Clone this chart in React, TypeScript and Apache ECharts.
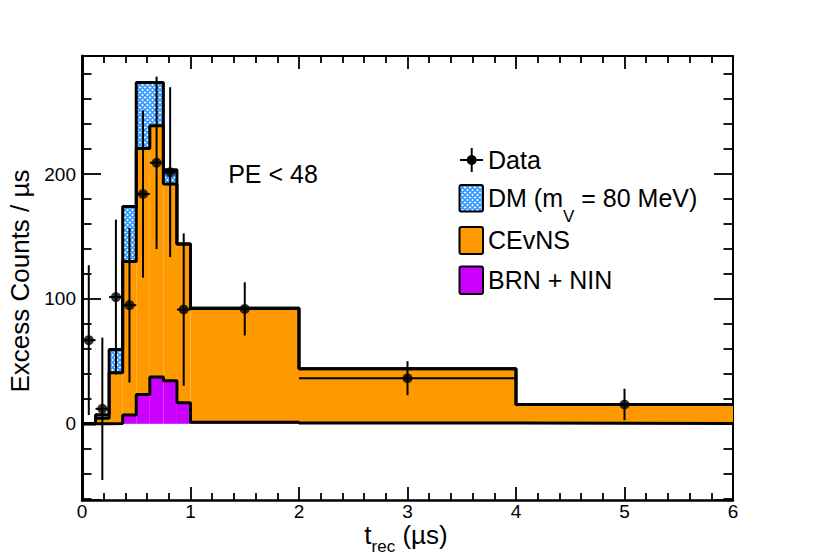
import React, { useEffect, useRef } from 'react';
import * as echarts from 'echarts';

// ---- data ----
const binEdges = [0, 0.125, 0.25, 0.375, 0.5, 0.625, 0.75, 0.875, 1, 2, 4, 6];
const brnNin = [0, 0, 0.3, 7, 23.5, 37.5, 34.5, 16.8, 1.3, 0.7, 0.3];
const cevns = [0, 4.5, 40.5, 123, 197, 201.2, 157.5, 127.2, 91.2, 43.3, 15.2];
const darkMatter = [0, 2.7, 18.7, 44, 52.8, 34.6, 11.5, 0, 0, 0, 0];
const dataCounts = [67, 12, 101.5, 95, 184, 209, 201.5, 91.5, 92, 36.5, 15.5];
const dataErrors = [60, 57, 62, 62, 67, 69, 68, 61, 21.3, 13.6, 12.6];
const yLabelValues = [0, 100, 200];
const legendLabels = ['Data', 'DM (m{s|V} = 80 MeV)', 'CEvNS', 'BRN + NIN'];
const cutLabel = 'PE < 48';
const xTitle = 't{s|rec} (µs)';
const yTitle = 'Excess Counts / µs';

const FONT = "'Liberation Sans', Arial, Helvetica, sans-serif";
const ORANGE = '#ff9900';
const MAGENTA = '#cc00ff';
const HATCH_BLUE = '#3399ff';

function hatchPattern() {
  const svg =
    '<svg xmlns="http://www.w3.org/2000/svg" width="5" height="5" viewBox="0 0 5 5">' +
    '<rect width="5" height="5" fill="#ffffff"/>' +
    '<path d="M-1,-1L6,6M6,-1L-1,6M4,-1L6,1M-1,4L1,6M-1,1L1,-1M4,6L6,4" stroke="' +
    HATCH_BLUE +
    '" stroke-width="1.7" fill="none"/></svg>';
  return {
    image: 'data:image/svg+xml;charset=utf-8,' + encodeURIComponent(svg),
    repeat: 'repeat',
    imageWidth: 5,
    imageHeight: 5,
  };
}

export default function App() {
  const ref = useRef<HTMLDivElement>(null);

  useEffect(() => {
    if (!ref.current) return;
    const chart = echarts.init(ref.current, null, { renderer: 'svg' });

    const n = brnNin.length;
    const zeros = brnNin.map(() => 0);
    const top1 = brnNin.slice();
    const top2 = brnNin.map((v, i) => v + cevns[i]);
    const top3 = top2.map((v, i) => v + darkMatter[i]);
    const centers = brnNin.map((_, i) => (binEdges[i] + binEdges[i + 1]) / 2);

    const rects = (lo: number[], hi: number[]) =>
      lo.map((l, i) => [binEdges[i], binEdges[i + 1], l, hi[i]]);
    const steps = (top: number[]) =>
      binEdges.map((e, i) => [e, top[Math.min(i, n - 1)]]);

    const rectRender = (fill: any) => (params: any, api: any) => {
      const a = api.coord([api.value(0), api.value(3)]);
      const b = api.coord([api.value(1), api.value(2)]);
      return {
        type: 'rect',
        shape: { x: a[0], y: a[1], width: b[0] - a[0], height: b[1] - a[1] },
        style: { fill },
        silent: true,
      };
    };

    const fillSeries = (name: string, data: number[][], fill: any) => ({
      name,
      type: 'custom',
      renderItem: rectRender(fill),
      data,
      encode: { x: [0, 1], y: [2, 3] },
      clip: true,
      z: 1,
      silent: true,
    });

    const outlineSeries = (top: number[]) => ({
      type: 'line',
      data: steps(top),
      step: 'end',
      symbol: 'none',
      showSymbol: false,
      lineStyle: { color: '#000', width: 3 },
      clip: true,
      z: 2,
      silent: true,
    });

    const errData = centers.map((c, i) => [
      c,
      dataCounts[i],
      binEdges[i],
      binEdges[i + 1],
      dataCounts[i] - dataErrors[i],
      dataCounts[i] + dataErrors[i],
    ]);

    const tickStyle = { color: '#000', width: 1.8 };

    const xAxisBase = {
      type: 'value',
      min: 0,
      max: 6,
      interval: 1,
      splitLine: { show: false },
      axisTick: { show: true, inside: true, length: 13, lineStyle: tickStyle },
      minorTick: { show: true, splitNumber: 5, length: 7, lineStyle: tickStyle },
      minorSplitLine: { show: false },
    };
    const yAxisBase = {
      type: 'value',
      min: -61,
      max: 294.5,
      splitNumber: 3,
      minInterval: 100,
      maxInterval: 100,
      splitLine: { show: false },
      axisTick: { show: true, inside: true, length: 19, lineStyle: tickStyle },
      minorTick: { show: true, splitNumber: 5, length: 9.5, lineStyle: tickStyle },
      minorSplitLine: { show: false },
    };

    const legendX = 488;
    const boxX = 459.5;
    const boxW = 23.5;

    chart.setOption({
      animation: false,
      backgroundColor: '#ffffff',
      textStyle: { fontFamily: FONT },
      grid: { left: 82, right: 81, top: 56, bottom: 56, outerBoundsMode: 'none' },
      xAxis: [
        {
          ...xAxisBase,
          position: 'bottom',
          axisLine: { show: true, onZero: false, lineStyle: { color: '#000', width: 2.5 } },
          axisLabel: { show: true, fontSize: 19, color: '#000', margin: 2, fontFamily: FONT },
        },
        {
          ...xAxisBase,
          position: 'top',
          axisLine: { show: true, onZero: false, lineStyle: { color: '#000', width: 2 } },
          axisLabel: { show: false },
        },
      ],
      yAxis: [
        {
          ...yAxisBase,
          position: 'left',
          axisLine: { show: true, onZero: false, lineStyle: { color: '#000', width: 3 } },
          axisLabel: {
            show: true,
            fontSize: 19,
            color: '#000',
            margin: 6,
            fontFamily: FONT,
            showMinLabel: false,
            showMaxLabel: false,
            formatter: (v: number) => (yLabelValues.indexOf(v) >= 0 ? String(v) : ''),
          },
        },
        {
          ...yAxisBase,
          position: 'right',
          axisLine: { show: true, onZero: false, lineStyle: { color: '#000', width: 2 } },
          axisLabel: { show: false },
        },
      ],
      series: [
        fillSeries('BRN + NIN', rects(zeros, top1), MAGENTA),
        fillSeries('CEvNS', rects(top1, top2), ORANGE),
        fillSeries('DM', rects(top2, top3), hatchPattern()),
        outlineSeries(top1),
        outlineSeries(top2),
        outlineSeries(top3),
        {
          type: 'custom',
          data: errData,
          encode: { x: [0, 2, 3], y: [1, 4, 5] },
          clip: true,
          z: 3,
          silent: true,
          renderItem: (params: any, api: any) => {
            const c = api.coord([api.value(0), api.value(1)]);
            const l = api.coord([api.value(2), api.value(1)]);
            const r = api.coord([api.value(3), api.value(1)]);
            const lo = api.coord([api.value(0), api.value(4)]);
            const hi = api.coord([api.value(0), api.value(5)]);
            const st = { stroke: '#000', lineWidth: 2 };
            return {
              type: 'group',
              children: [
                { type: 'line', shape: { x1: l[0], y1: c[1], x2: r[0], y2: c[1] }, style: st },
                { type: 'line', shape: { x1: c[0], y1: lo[1], x2: c[0], y2: hi[1] }, style: st },
              ],
            };
          },
        },
        {
          name: 'Data',
          type: 'scatter',
          data: centers.map((c, i) => [c, dataCounts[i]]),
          symbol: 'circle',
          symbolSize: 10,
          itemStyle: { color: '#000' },
          z: 4,
          silent: true,
        },
      ],
      graphic: [
        // cut label
        {
          type: 'text',
          x: 273,
          y: 174,
          style: {
            text: cutLabel,
            fontSize: 25,
            fontFamily: FONT,
            fill: '#000',
            align: 'center',
            verticalAlign: 'middle',
          },
        },
        // legend: Data marker
        { type: 'line', shape: { x1: 460, y1: 160, x2: 483, y2: 160 }, style: { stroke: '#000', lineWidth: 2 } },
        { type: 'line', shape: { x1: 471.7, y1: 148, x2: 471.7, y2: 172 }, style: { stroke: '#000', lineWidth: 2 } },
        { type: 'circle', shape: { cx: 471.7, cy: 160, r: 5 }, style: { fill: '#000' } },
        // legend boxes
        {
          type: 'rect',
          shape: { x: boxX, y: 185, width: boxW, height: 26.5, r: 2 },
          style: { fill: hatchPattern(), stroke: '#000', lineWidth: 2 },
        },
        {
          type: 'rect',
          shape: { x: boxX, y: 227, width: boxW, height: 27, r: 2 },
          style: { fill: ORANGE, stroke: '#000', lineWidth: 2 },
        },
        {
          type: 'rect',
          shape: { x: boxX, y: 266.5, width: boxW, height: 27.5, r: 2 },
          style: { fill: MAGENTA, stroke: '#000', lineWidth: 2 },
        },
        // legend texts
        {
          type: 'text',
          x: legendX,
          y: 160,
          style: { text: legendLabels[0], fontSize: 25, fontFamily: FONT, fill: '#000', align: 'left', verticalAlign: 'middle' },
        },
        {
          type: 'text',
          x: legendX,
          y: 185.5,
          style: {
            text: '{b|' + legendLabels[1].replace('{s|V}', '}{s|V}{b|') + '}',
            fontFamily: FONT,
            fill: '#000',
            align: 'left',
            verticalAlign: 'top',
            rich: {
              b: { fontSize: 25, verticalAlign: 'top', fontFamily: FONT, fill: '#000' },
              s: { fontSize: 17, verticalAlign: 'top', padding: [22, 0, 0, 0], fontFamily: FONT, fill: '#000' },
            },
          },
        },
        {
          type: 'text',
          x: legendX,
          y: 240,
          style: { text: legendLabels[2], fontSize: 25, fontFamily: FONT, fill: '#000', align: 'left', verticalAlign: 'middle' },
        },
        {
          type: 'text',
          x: legendX,
          y: 280,
          style: { text: legendLabels[3], fontSize: 25, fontFamily: FONT, fill: '#000', align: 'left', verticalAlign: 'middle' },
        },
        // axis titles
        {
          type: 'text',
          x: 406,
          y: 522,
          style: {
            text: '{b|' + xTitle.replace('{s|rec}', '}{s|rec}{b|') + '}',
            fontFamily: FONT,
            fill: '#000',
            align: 'center',
            verticalAlign: 'top',
            rich: {
              b: { fontSize: 26, verticalAlign: 'top', fontFamily: FONT, fill: '#000' },
              s: { fontSize: 17, verticalAlign: 'top', padding: [15.5, 0, 0, 0], fontFamily: FONT, fill: '#000' },
            },
          },
        },
        {
          type: 'text',
          x: 20,
          y: 281,
          rotation: Math.PI / 2,
          style: { text: yTitle, fontSize: 26, fontFamily: FONT, fill: '#000', align: 'center', verticalAlign: 'middle' },
        },
      ],
    });

    return () => {
      chart.dispose();
    };
  }, []);

  return (
    <div
      ref={ref}
      style={{ position: 'fixed', left: 0, top: 0, width: 814, height: 556, background: '#fff' }}
    />
  );
}
